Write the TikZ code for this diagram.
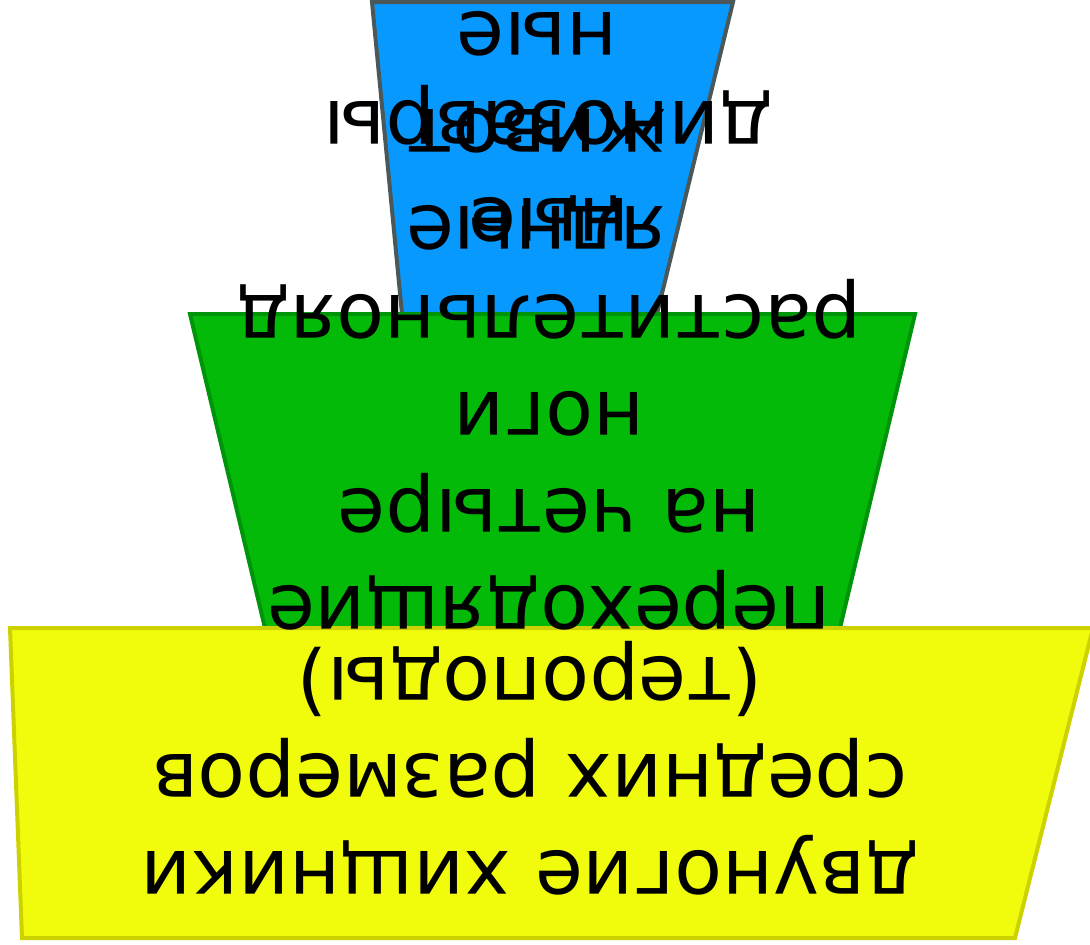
\documentclass[tikz,border=0pt]{standalone}
\usepackage{fontspec}
\setmainfont{DejaVu Sans}
\definecolor{SkyFill}{RGB}{8,153,255}
\definecolor{SkyEdge}{RGB}{75,88,90}
\definecolor{LeafFill}{RGB}{3,186,8}
\definecolor{LeafEdge}{RGB}{0,148,10}
\definecolor{LemonFill}{RGB}{240,252,12}
\definecolor{LemonEdge}{RGB}{204,210,0}

\begin{document}
\begin{tikzpicture}[x=1pt,y=-1pt,
    tier/.style={line width=4pt},
    tiertext/.style={rotate=180,align=center,inner sep=0pt,
      font=\fontsize{78}{97}\selectfont}]
  \useasboundingbox (0,0) rectangle (1090,945);
  % narrow tier on top
  \coordinate (A1) at (372,2);
  \coordinate (A2) at (733,2);
  \draw[tier,SkyEdge,fill=SkyFill] (A1)--(A2)--(657,314)--(402,314)--cycle;
  % middle tier
  \coordinate (B1) at (190,314);
  \coordinate (B2) at (915,314);
  \draw[tier,LeafEdge,fill=LeafFill] (B1)--(B2)--(840,628)--(265,628)--cycle;
  % wide tier at the bottom
  \coordinate (C1) at (10,628);
  \coordinate (C2) at (1093,628);
  \draw[tier,LemonEdge,fill=LemonFill] (C1)--(C2)--(1015,938)--(22,938)--cycle;
  % texts, upside down
  \node[tiertext] (carnivores) at (537,131) {ядные\\живот\\ные};
  \node[tiertext] (herbivores) at (549,358) {переходящие\\на четыре\\ноги\\растительнояд\\ные\\динозавры};
  \node[tiertext] (theropods) at (530,768) {двуногие хищники\\средних размеров\\(тероподы)};
\end{tikzpicture}
\end{document}
